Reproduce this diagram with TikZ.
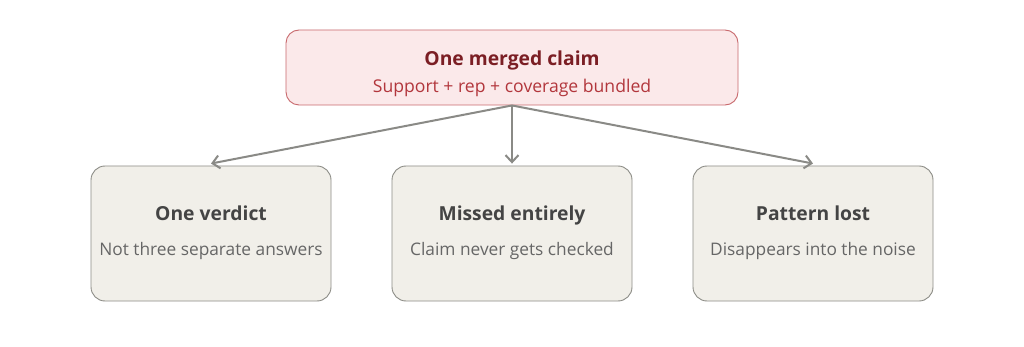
\documentclass[tikz,border=0pt]{standalone}
\usepackage{fontspec}
\setmainfont{Open Sans}
\usepackage{tikz}
\usetikzlibrary{arrows.meta}
\definecolor{claimfill}{RGB}{251,233,234}
\definecolor{claimdraw}{RGB}{200,104,108}
\definecolor{claimhead}{RGB}{123,30,36}
\definecolor{claimsub}{RGB}{178,54,60}
\definecolor{fatefill}{RGB}{241,239,233}
\definecolor{fatedraw}{RGB}{140,140,134}
\definecolor{fatehead}{RGB}{68,68,68}
\definecolor{fatesub}{RGB}{102,102,102}
\definecolor{linkgray}{RGB}{138,138,134}

\begin{document}
\begin{tikzpicture}[x=1pt,y=-1pt,
  claimbox/.style={rounded corners=13pt,fill=claimfill,draw=claimdraw,line width=0.9pt,minimum width=452pt,minimum height=75pt,inner sep=0pt},
  fatebox/.style={rounded corners=14pt,fill=fatefill,draw=fatedraw,line width=0.9pt,minimum width=240pt,minimum height=135pt,inner sep=0pt},
  headtext/.style={inner sep=0pt,anchor=base,font=\bfseries\fontsize{19.3}{22}\selectfont},
  subtext/.style={inner sep=0pt,anchor=base,font=\fontsize{17.3}{20}\selectfont},
  link/.style={draw=linkgray,line width=2pt,-{Straight Barb[length=7pt,width=13pt,line width=2pt]}}]
\path[use as bounding box] (0,0) rectangle (1024,347);
\path[fill=white,draw=none] (0,0) rectangle (1024,347);
% merged claim on top
\node[claimbox] (claim) at (512,67.5) {};
\node[headtext,text=claimhead] (claimhd) at (512,66) {One merged claim};
\node[subtext,text=claimsub,font=\fontsize{17.6}{20}\selectfont] (claimsb) at (512,93) {Support + rep + coverage bundled};
% three outcomes
\node[fatebox] (verdict) at (211,233.5) {};
\node[headtext,text=fatehead] (verdicthd) at (211,220.5) {One verdict};
\node[subtext,text=fatesub] (verdictsb) at (211,255.5) {Not three separate answers};
\node[fatebox] (missed) at (512,233.5) {};
\node[headtext,text=fatehead] (missedhd) at (512,220.5) {Missed entirely};
\node[subtext,text=fatesub] (missedsb) at (512,255.5) {Claim never gets checked};
\node[fatebox] (lost) at (813,233.5) {};
\node[headtext,text=fatehead] (losthd) at (813,220.5) {Pattern lost};
\node[subtext,text=fatesub] (lostsb) at (813,255.5) {Disappears into the noise};
% connectors
\draw[link] (claim.south) -- ([yshift=2pt]verdict.north);
\draw[link] (claim.south) -- ([yshift=2pt]missed.north);
\draw[link] (claim.south) -- ([yshift=2pt]lost.north);
\end{tikzpicture}
\end{document}
